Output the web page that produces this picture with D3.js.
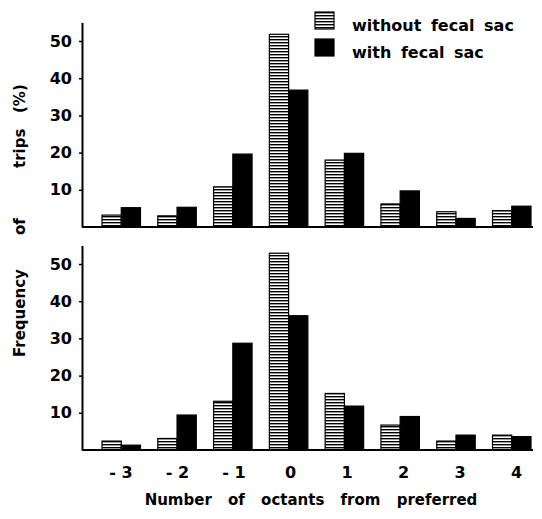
<!DOCTYPE html>
<html>
<head>
<meta charset="utf-8">
<script src="https://cdn.jsdelivr.net/npm/d3@7"></script>
<style>
  body { margin: 0; background: #fff; }
  text { font-family: "DejaVu Sans", sans-serif; font-weight: bold; fill: #000; }
</style>
</head>
<body>
<svg id="chart"></svg>
<script>
// values (% of trips)
const categories = [-3, -2, -1, 0, 1, 2, 3, 4];
const tickLabels = ['- 3', '- 2', '- 1', '0', '1', '2', '3', '4'];
const seriesNames = ['without fecal sac', 'with fecal sac'];
const topWithout = [3.2, 3.0, 10.8, 51.8, 18.0, 6.2, 4.1, 4.4];
const topWith = [5.2, 5.3, 19.6, 36.8, 19.8, 9.7, 2.3, 5.6];
const bottomWithout = [2.4, 3.1, 13.1, 52.9, 15.2, 6.7, 2.4, 4.0];
const bottomWith = [1.3, 9.4, 28.7, 36.1, 11.8, 9.0, 4.0, 3.6];
const yTicks = [10, 20, 30, 40, 50];

const width = 542, height = 519;
const axisX = 82, rightX = 533;

const svg = d3.select('#chart')
  .attr('width', width)
  .attr('height', height);

// horizontal hatching for the "without" series
const pattern = svg.append('defs').append('pattern')
  .attr('id', 'stripes')
  .attr('patternUnits', 'userSpaceOnUse')
  .attr('width', 6)
  .attr('height', 3);
pattern.append('rect').attr('width', 6).attr('height', 3).attr('fill', '#fff');
pattern.append('rect').attr('width', 6).attr('height', 1.4).attr('fill', '#000');

const x = d3.scaleBand()
  .domain(categories)
  .range([102, 531])
  .paddingInner(0.31)
  .paddingOuter(0);

const xInner = d3.scaleBand()
  .domain(seriesNames)
  .range([0, x.bandwidth()]);

const fills = { 'without fecal sac': 'url(#stripes)', 'with fecal sac': '#000' };

const panels = [
  { without: topWithout, with: topWith, base: 227, top: 22.4 },
  { without: bottomWithout, with: bottomWith, base: 450, top: 245.4 }
];

panels.forEach(function(p) {
  const y = d3.scaleLinear().domain([0, 55]).range([p.base, p.top]);

  const rows = categories.map(function(c, i) {
    return { cat: c, values: [
      { name: seriesNames[0], v: p.without[i] },
      { name: seriesNames[1], v: p.with[i] }
    ] };
  });

  const g = svg.append('g');

  g.selectAll('.group')
    .data(rows)
    .enter()
    .append('g')
    .attr('transform', function(d) { return `translate(${x(d.cat)},0)`; })
    .selectAll('rect')
    .data(function(d) { return d.values; })
    .enter()
    .append('rect')
    .attr('x', function(d) { return xInner(d.name); })
    .attr('y', function(d) { return y(d.v); })
    .attr('width', xInner.bandwidth())
    .attr('height', function(d) { return y(0) - y(d.v); })
    .attr('fill', function(d) { return fills[d.name]; })
    .attr('stroke', '#000')
    .attr('stroke-width', 1.2);

  // baseline
  g.append('line')
    .attr('x1', axisX)
    .attr('x2', rightX)
    .attr('y1', y(0))
    .attr('y2', y(0))
    .attr('stroke', '#000')
    .attr('stroke-width', 2);

  const yAxis = g.append('g')
    .attr('transform', `translate(${axisX},0)`)
    .call(d3.axisLeft(y).tickValues(yTicks).tickSize(3).tickPadding(7).tickSizeOuter(0));
  yAxis.select('.domain').attr('stroke-width', 2);
  yAxis.selectAll('.tick line').attr('stroke-width', 1.5);
  yAxis.selectAll('text')
    .style('font-size', '16px')
    .style('font-family', '"DejaVu Sans", sans-serif')
    .style('font-weight', 'bold');
});

// category labels under the lower panel
const xLabels = d3.scaleBand()
  .domain(categories)
  .range([101.5, 536])
  .paddingInner(0.31)
  .paddingOuter(0);

const xAxis = svg.append('g')
  .attr('transform', 'translate(0,450)')
  .call(d3.axisBottom(xLabels).tickSize(0).tickPadding(17)
    .tickFormat(function(d, i) { return tickLabels[i]; }));
xAxis.select('.domain').remove();
xAxis.selectAll('text')
  .style('font-size', '16px')
  .style('font-family', '"DejaVu Sans", sans-serif')
  .style('font-weight', 'bold');

// axis titles
svg.append('text')
  .attr('x', 311)
  .attr('y', 505)
  .attr('text-anchor', 'middle')
  .style('font-size', '15px')
  .style('word-spacing', '11px')
  .text('Number of octants from preferred');

const yTitle = svg.append('text')
  .attr('transform', 'rotate(-90)')
  .attr('y', 24.5)
  .style('font-size', '15px');
yTitle.append('tspan').attr('x', -357).text('Frequency');
yTitle.append('tspan').attr('x', -235).text('of');
yTitle.append('tspan').attr('x', -168).text('trips');
yTitle.append('tspan').attr('x', -113).text('(%)');

// legend
const legend = svg.selectAll('.legend')
  .data(seriesNames)
  .enter()
  .append('g')
  .attr('transform', function(d, i) { return `translate(315,${12 + i * 27})`; });

legend.append('rect')
  .attr('width', 19)
  .attr('height', 17)
  .attr('fill', function(d) { return fills[d]; })
  .attr('stroke', '#000')
  .attr('stroke-width', 1.2);

legend.append('text')
  .attr('x', 37)
  .attr('y', 18.5)
  .style('font-size', '16px')
  .style('word-spacing', '4px')
  .text(function(d) { return d; });
</script>
</body>
</html>
